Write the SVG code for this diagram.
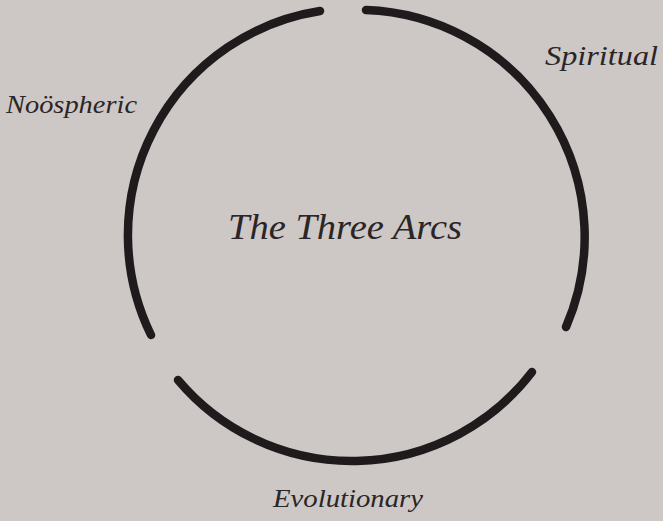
<svg xmlns="http://www.w3.org/2000/svg" width="663" height="521" viewBox="0 0 663 521">
<style>
.arc{fill:none;stroke:#1f1b1c;stroke-width:8.5;stroke-linecap:round}
.lbl{font-family:"Liberation Serif","DejaVu Serif",serif;font-style:italic;fill:#2a2526}
</style>
<rect width="663" height="521" fill="#cdc8c5"/>
<g id="arcs">
<path class="arc" d="M320 11 A227 227 0 0 0 151 335"/>
<path class="arc" d="M366 10 A227 227 0 0 1 566 327"/>
<path class="arc" d="M178 380 A227 227 0 0 0 532 372"/>
</g>
<g id="title"><text class="lbl" x="228" y="239" font-size="36" textLength="234" lengthAdjust="spacingAndGlyphs">The Three Arcs</text></g>
<g id="noospheric"><text class="lbl" x="6" y="113" font-size="26" textLength="131" lengthAdjust="spacingAndGlyphs">Noöspheric</text></g>
<g id="spiritual"><text class="lbl" x="545" y="65" font-size="27" textLength="113" lengthAdjust="spacingAndGlyphs">Spiritual</text></g>
<g id="evolutionary"><text class="lbl" x="273" y="507" font-size="26" textLength="150" lengthAdjust="spacingAndGlyphs">Evolutionary</text></g>
</svg>
